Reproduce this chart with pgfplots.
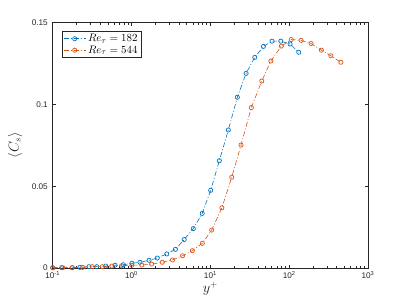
\documentclass[border=0pt]{standalone}
\usepackage[no-math]{fontspec}
\usepackage{pgfplots}
\pgfplotsset{compat=1.18}
\newfontfamily\helv{Liberation Sans}
\definecolor{mblue}{HTML}{0072BD}
\definecolor{morange}{HTML}{D95319}
\definecolor{axgray}{rgb}{0.15,0.15,0.15}
\begin{document}
\begin{tikzpicture}
\begin{axis}[
  scale only axis,
  width=315.3bp, height=245.3bp,
  xmode=log, log basis x=10,
  xmin=0.1, xmax=1000, ymin=0, ymax=0.15,
  xtick={0.1,1,10,100,1000},
  xticklabels={10\textsuperscript{-1},10\textsuperscript{0},10\textsuperscript{1},10\textsuperscript{2},10\textsuperscript{3}},
  minor xtick={0.2,0.3,0.4,0.5,0.6,0.7,0.8,0.9,2,3,4,5,6,7,8,9,20,30,40,50,60,70,80,90,200,300,400,500,600,700,800,900},
  ytick={0,0.05,0.1,0.15},
  yticklabels={0,0.05,0.1,0.15},
  scaled y ticks=false,
  tick align=inside,
  major tick length=3.2bp, minor tick length=2bp,
  every tick/.style={axgray, line width=0.5bp},
  axis line style={axgray, line width=0.5bp},
  tick label style={font=\helv\fontsize{8.2}{9.5}\selectfont, text=axgray},
  yticklabel style={xshift=-1.5bp},
  xlabel={$y^+$},
  ylabel={$\langle C_s\rangle$},
  label style={font=\fontsize{13.5}{16}\selectfont, text=axgray},
  xlabel style={at={(axis description cs:0.5,-0.099)}, anchor=base},
  ylabel style={at={(axis description cs:-0.1196,0.5)}, anchor=center},
  clip=false,
  legend style={at={(axis description cs:0.0285,0.966)}, anchor=north west,
    draw=axgray, line width=0.5bp, font=\fontsize{11}{13}\selectfont,
    inner xsep=1.5bp, inner ysep=1bp, row sep=-1.5bp},
  legend cell align=left,
  legend image code/.code={\draw[#1, mark repeat=2, mark phase=2] plot coordinates {(0bp,0bp) (11bp,0bp) (22bp,0bp)};},
]
\addplot[color=mblue, line width=0.6bp, dash pattern=on 5bp off 2bp on 1bp off 2bp,
  mark=o, mark size=2.1bp, mark options={solid, line width=0.7bp}] coordinates {
(0.100, 0.0002)
(0.130, 0.0002)
(0.177, 0.0002)
(0.222, 0.0004)
(0.289, 0.0008)
(0.362, 0.0008)
(0.471, 0.0012)
(0.618, 0.0017)
(0.787, 0.0020)
(1.01, 0.0029)
(1.28, 0.0035)
(1.67, 0.0047)
(2.12, 0.0061)
(2.80, 0.0086)
(3.61, 0.0114)
(4.66, 0.0174)
(6.08, 0.0241)
(7.89, 0.0334)
(10.1, 0.0475)
(13.0, 0.0656)
(16.9, 0.0844)
(22.0, 0.1044)
(28.4, 0.1190)
(36.6, 0.1288)
(47.1, 0.1355)
(60.7, 0.1387)
(78.2, 0.1387)
(102.6, 0.1370)
(132.4, 0.1319)
};
\addlegendentry{$Re_\tau = 182$}
\addplot[color=morange, line width=0.6bp, dash pattern=on 5bp off 2bp on 1bp off 2bp,
  mark=o, mark size=2.1bp, mark options={solid, line width=0.7bp}] coordinates {
(0.100, 0.0001)
(0.134, 0.0002)
(0.177, 0.0002)
(0.240, 0.0004)
(0.318, 0.0008)
(0.426, 0.0008)
(0.561, 0.0012)
(0.751, 0.0014)
(1.01, 0.0017)
(1.35, 0.0018)
(1.80, 0.0024)
(2.46, 0.0035)
(3.31, 0.0049)
(4.44, 0.0075)
(5.91, 0.0106)
(7.91, 0.0151)
(10.4, 0.0232)
(14.0, 0.0368)
(18.7, 0.0555)
(24.5, 0.0752)
(33.1, 0.0981)
(44.9, 0.1143)
(58.6, 0.1266)
(79.6, 0.1357)
(106.3, 0.1397)
(141.6, 0.1392)
(189.7, 0.1373)
(256.4, 0.1332)
(338.2, 0.1298)
(452.7, 0.1258)
};
\addlegendentry{$Re_\tau = 544$}
\end{axis}
\pgfresetboundingbox
\path[use as bounding box] ([shift={(-52.7bp,-37bp)}]current axis.south west) rectangle ([shift={(39bp,22.7bp)}]current axis.north east);
\end{tikzpicture}
\end{document}
